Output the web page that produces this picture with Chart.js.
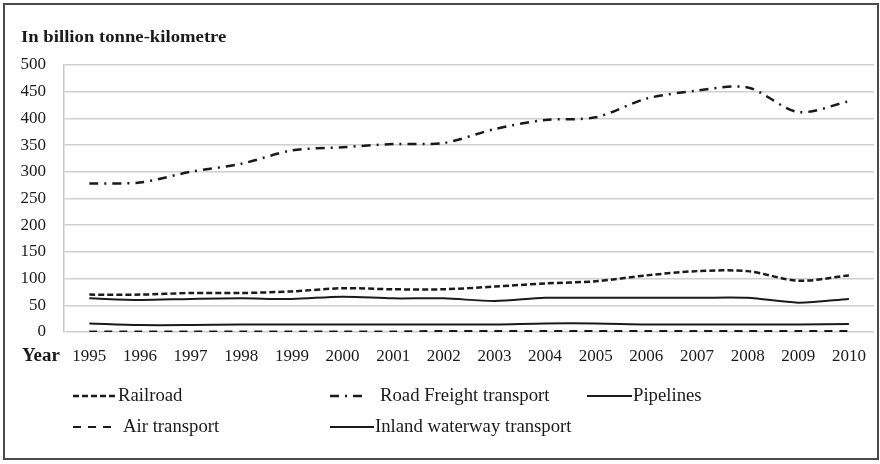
<!DOCTYPE html>
<html>
<head>
<meta charset="utf-8">
<script src="https://cdn.jsdelivr.net/npm/chart.js@4.4.0/dist/chart.umd.min.js"></script>
<style>
  body { margin: 0; background: #fff; }
  canvas { display: block; }
</style>
</head>
<body>
<canvas id="freightChart" width="880" height="464"></canvas>
<script>
'use strict';

const years = ['1995', '1996', '1997', '1998', '1999', '2000', '2001', '2002',
               '2003', '2004', '2005', '2006', '2007', '2008', '2009', '2010'];
const railroad = [70, 70, 73, 73, 76, 82, 80, 80, 85, 91, 95, 106, 114, 114, 96, 106];
const roadFreight = [278, 280, 300, 315, 340, 346, 352, 354, 380, 397, 402, 437, 452, 458, 412, 432];
const pipelines = [63, 60, 62, 63, 62, 66, 63, 63, 58, 64, 64, 64, 64, 64, 55, 62];
const airTransport = [1, 1, 1, 1, 1, 1, 1, 2, 2, 2, 2, 2, 2, 2, 2, 2];
const inlandWaterway = [16, 13, 13, 14, 14, 14, 14, 14, 14, 16, 16, 14, 14, 14, 14, 15];

const yTicks = [0, 50, 100, 150, 200, 250, 300, 350, 400, 450, 500];

const serif = '"Liberation Serif", "DejaVu Serif", serif';
const ink = '#1a1a1a';

// stretched text, the reference face is wider than Liberation Serif
function wideText(ctx, text, x, y, sx) {
    ctx.save();
    ctx.translate(x, y);
    ctx.scale(sx, 1);
    ctx.fillText(text, 0, 0);
    ctx.restore();
}

// title, "Year" label, two-row legend and the outer frame
const decorPlugin = {
    id: 'decor',
    afterDraw(chart) {
        const ctx = chart.ctx;
        ctx.save();
        ctx.fillStyle = ink;
        ctx.textBaseline = 'middle';
        ctx.textAlign = 'left';
        ctx.font = 'bold 17px ' + serif;
        wideText(ctx, 'In billion tonne-kilometre', 21, 38, 1.1);
        ctx.font = 'bold 18px ' + serif;
        wideText(ctx, 'Year', 22, 356, 1.05);

        const cols = [73, 330, 587];
        const rows = [396, 427];
        chart.data.datasets.forEach(function (ds, i) {
            const x = cols[i % 3];
            const y = rows[Math.floor(i / 3)];
            const len = ds.legendLen;
            ctx.beginPath();
            ctx.setLineDash(ds.borderDash || []);
            ctx.lineWidth = ds.borderWidth;
            ctx.strokeStyle = ds.borderColor;
            ctx.moveTo(x, y);
            ctx.lineTo(x + len, y);
            ctx.stroke();
            ctx.setLineDash([]);
            ctx.font = '18px ' + serif;
            wideText(ctx, ds.label, x + ds.legendGap, y, 1.04);
        });

        ctx.strokeStyle = '#4a4a4a';
        ctx.lineWidth = 2;
        ctx.strokeRect(4, 4, 874, 455);
        ctx.restore();
    }
};

function lineSet(label, data, dash, width, legendLen, legendGap) {
    return {
        label: label,
        data: data,
        borderColor: ink,
        backgroundColor: ink,
        borderWidth: width,
        borderDash: dash,
        pointRadius: 0,
        tension: 0.3,
        fill: false,
        legendLen: legendLen,
        legendGap: legendGap
    };
}

new Chart(document.getElementById('freightChart'), {
    type: 'line',
    data: {
        labels: years,
        datasets: [
            lineSet('Railroad', railroad, [6, 3], 2.5, 44, 45),
            lineSet('Road Freight transport', roadFreight, [9, 6, 2, 6], 2.5, 37, 50),
            lineSet('Pipelines', pipelines, [], 2, 45, 46),
            lineSet('Air transport', airTransport, [8, 7], 2, 42, 50),
            lineSet('Inland waterway transport', inlandWaterway, [], 2, 44, 45)
        ]
    },
    options: {
        responsive: false,
        animation: false,
        devicePixelRatio: 1,
        layout: {
            padding: { left: 20, right: 3, top: 65, bottom: 102 }
        },
        plugins: {
            legend: { display: false },
            tooltip: { enabled: false }
        },
        scales: {
            x: {
                offset: true,
                grid: { display: false, drawTicks: false },
                border: { display: false },
                ticks: {
                    color: ink,
                    padding: 14,
                    maxRotation: 0,
                    autoSkip: false,
                    font: { family: serif, size: 17 }
                },
                afterFit(scale) { scale.height = 30; }
            },
            y: {
                min: 0,
                max: 500,
                afterBuildTicks(scale) {
                    scale.ticks = yTicks.map(function (v) { return { value: v }; });
                },
                grid: { color: '#d0d0d0', lineWidth: 1.5, drawTicks: false },
                border: { display: true, color: '#c8c8c8', width: 1.5 },
                ticks: {
                    color: ink,
                    padding: 18,
                    font: { family: serif, size: 17 }
                },
                afterFit(scale) { scale.width = 44; }
            }
        }
    },
    plugins: [decorPlugin]
});
</script>
</body>
</html>
